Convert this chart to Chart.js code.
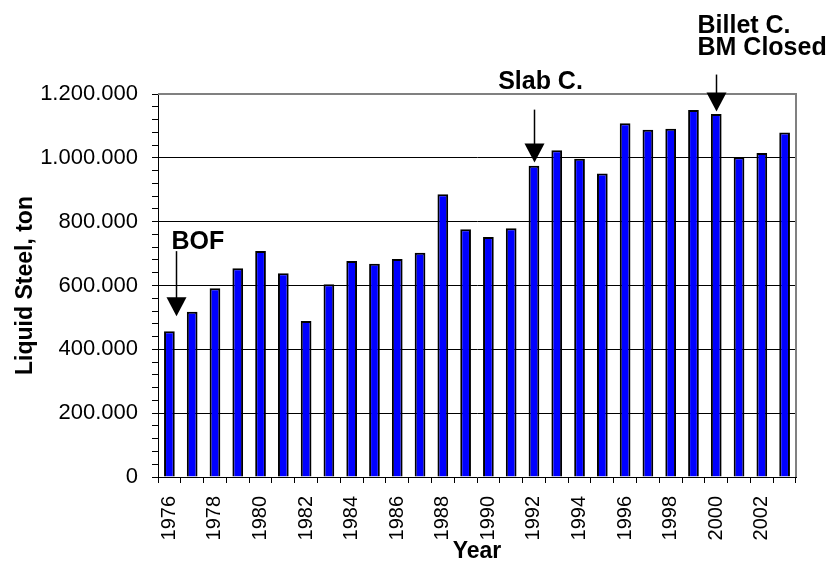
<!DOCTYPE html>
<html>
<head>
<meta charset="utf-8">
<script src="https://cdn.jsdelivr.net/npm/chart.js@4.4.1/dist/chart.umd.min.js"></script>
<style>
  html, body { margin: 0; padding: 0; background: #fff; }
  #wrap { width: 835px; height: 563px; position: relative; }
</style>
</head>
<body>
<div id="wrap"><canvas id="chart" width="835" height="563"></canvas></div>
<script>
// Liquid steel output per year, tons
const years = ['1976','1977','1978','1979','1980','1981','1982','1983','1984','1985',
               '1986','1987','1988','1989','1990','1991','1992','1993','1994','1995',
               '1996','1997','1998','1999','2000','2001','2002','2003'];
const liquidSteel = [457000, 518000, 591000, 654000, 708000, 638000, 489000, 604000,
                     677000, 668000, 683000, 703000, 886000, 776000, 752000, 779000,
                     975000, 1024000, 997000, 951000, 1108000, 1088000, 1091000, 1150000,
                     1137000, 1002000, 1015000, 1079000];
// y axis: labelled every 200.000, minor ticks every 40.000
const yMax = 1200000;
const yMajorStep = 200000;
const yMinorStep = 40000;

// Plant events: year they point at and the level of the arrow tip
const eventLabels = [['BOF'], ['Slab C.'], ['Billet C.', 'BM Closed']];
const eventYears = ['1976', '1992', '2000'];
const eventTipValues = [504000, 985000, 1145000];

const FONT = "'Liberation Sans', Arial, Helvetica, sans-serif";

function dotted(v) {
  return String(v).replace(/\B(?=(\d{3})+(?!\d))/g, '.');
}

// Frame (top/right in grey) and event arrows with their captions
const eventPlugin = {
  id: 'events',
  afterDatasetsDraw(chart) {
    const { ctx, chartArea: a, scales: { x, y } } = chart;
    ctx.save();
    ctx.strokeStyle = '#808080';
    ctx.lineWidth = 2;
    ctx.beginPath();
    ctx.moveTo(a.left, a.top);
    ctx.lineTo(a.right, a.top);
    ctx.lineTo(a.right, a.bottom);
    ctx.stroke();

    const step = x.getPixelForValue(1) - x.getPixelForValue(0);
    const styles = [
      { dx: 0.31, len: 65, align: 'left',   tx: -5,  ty: [-2] },
      { dx: 0,    len: 53, align: 'center', tx: 6,   ty: [-21] },
      { dx: 0,    len: 37, align: 'left',   tx: -19, ty: [-42, -20] }
    ];
    eventLabels.forEach((lines, i) => {
      const s = styles[i];
      const idx = years.indexOf(eventYears[i]);
      const ax = Math.round(x.getPixelForValue(idx) + s.dx * step) + 0.5;
      const tip = y.getPixelForValue(eventTipValues[i]);
      const top = tip - s.len;
      const head = 19;
      ctx.strokeStyle = '#000';
      ctx.fillStyle = '#000';
      ctx.lineWidth = 1.5;
      ctx.beginPath();
      ctx.moveTo(ax, top);
      ctx.lineTo(ax, tip - head + 1);
      ctx.stroke();
      ctx.beginPath();
      ctx.moveTo(ax - 10, tip - head);
      ctx.lineTo(ax + 10, tip - head);
      ctx.lineTo(ax, tip);
      ctx.closePath();
      ctx.fill();
      ctx.font = 'bold 25px ' + FONT;
      ctx.textAlign = s.align;
      ctx.textBaseline = 'alphabetic';
      lines.forEach((t, j) => ctx.fillText(t, ax + s.tx, top + s.ty[j]));
    });
    ctx.restore();
  }
};

new Chart(document.getElementById('chart'), {
  type: 'bar',
  data: {
    labels: years,
    datasets: [{
      data: liquidSteel,
      backgroundColor: '#0000FF',
      borderColor: '#000',
      borderWidth: 2,
      borderSkipped: 'start',
      barPercentage: 0.47,
      categoryPercentage: 1.0
    }]
  },
  options: {
    responsive: false,
    animation: false,
    devicePixelRatio: 1,
    layout: { padding: { top: 94, right: 39, left: 0, bottom: 0 } },
    plugins: { legend: { display: false }, tooltip: { enabled: false } },
    scales: {
      x: {
        offset: true,
        afterFit(scale) { scale.height = 86; },
        grid: { offset: true, drawOnChartArea: false, color: '#000', tickColor: '#000', tickLength: 6 },
        border: { display: true, color: '#000', width: 1 },
        ticks: {
          autoSkip: false,
          minRotation: 90,
          maxRotation: 90,
          padding: 13,
          color: '#000',
          font: { family: FONT, size: 20 },
          callback(value, index) { return index % 2 === 0 ? years[index] : ''; }
        },
        title: {
          display: true,
          text: 'Year',
          color: '#000',
          font: { family: FONT, size: 23, weight: 'bold', lineHeight: 1 },
          padding: { top: 0, bottom: 0 }
        }
      },
      y: {
        min: 0,
        max: yMax,
        afterFit(scale) { scale.width = 158; },
        grid: {
          color(c) {
            const v = c.tick && c.tick.value;
            return (v % yMajorStep === 0 && v !== 0 && v !== yMax) ? '#000' : 'rgba(0,0,0,0)';
          },
          tickColor: '#000',
          tickLength: 6,
          lineWidth: 1
        },
        border: { display: true, color: '#000', width: 1 },
        ticks: {
          stepSize: yMinorStep,
          autoSkip: false,
          padding: 14,
          color: '#000',
          font: { family: FONT, size: 22 },
          callback(value) { return value % yMajorStep === 0 ? dotted(value) : ''; }
        },
        title: {
          display: true,
          text: 'Liquid Steel, ton',
          color: '#000',
          font: { family: FONT, size: 23, weight: 'bold', lineHeight: 1 },
          padding: { top: 14, bottom: 0 }
        }
      }
    }
  },
  plugins: [eventPlugin]
});
</script>
</body>
</html>
